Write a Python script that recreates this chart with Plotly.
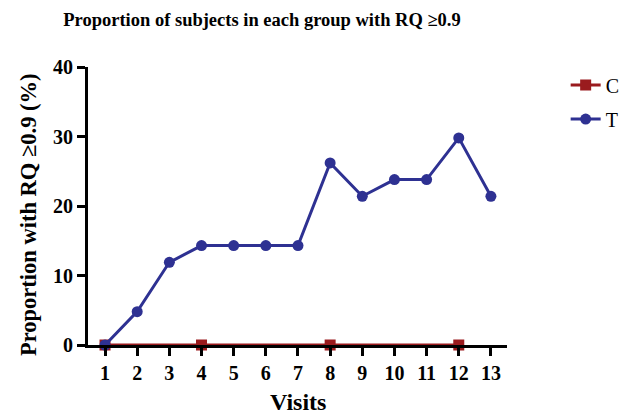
import plotly.graph_objects as go

visits = list(range(1, 14))
t_values = [0, 4.8, 11.9, 14.3, 14.3, 14.3, 14.3, 26.2, 21.4, 23.8, 23.8, 29.8, 21.4]
c_visits = [1, 4, 8, 12]
c_values = [0, 0, 0, 0]
y_ticks = [0, 10, 20, 30, 40]

red = "#9a1b1e"
blue = "#2e3192"
font_family = "Liberation Serif"

# page body has an 8px default margin; figure is sized to fit inside 641x415
W, H = 633, 407
ML, MR, MT, MB = 80, 134, 59, 70
PW, PH = W - ML - MR, H - MT - MB

fig = go.Figure()
fig.add_trace(go.Scatter(
    x=c_visits, y=c_values, name="C", mode="lines+markers", legendgroup="c",
    line=dict(color=red, width=3), marker=dict(symbol="square", size=11, color=red),
    cliponaxis=False))
fig.add_trace(go.Scatter(
    x=visits, y=t_values, name="T", mode="lines+markers", legendgroup="t",
    line=dict(color=blue, width=3), marker=dict(symbol="circle", size=11, color=blue),
    cliponaxis=False))

fig.update_layout(
    width=W, height=H,
    margin=dict(l=ML, r=MR, t=MT, b=MB, autoexpand=False),
    paper_bgcolor="white", plot_bgcolor="white",
    font=dict(family=font_family, color="black", size=19),
    title=dict(text="<b>Proportion of subjects in each group with RQ ≥0.9</b>",
               x=254 / W, xanchor="center", y=1 - 12 / H, yanchor="middle",
               font=dict(size=18.5, family=font_family)),
    legend=dict(x=1.14, y=1.005, xanchor="left", yanchor="top",
                traceorder="grouped", tracegroupgap=5,
                font=dict(size=20, family=font_family), itemwidth=30),
    showlegend=True,
    annotations=[
        dict(text="<b>Proportion with RQ ≥0.9 (%)</b>", xref="paper", yref="paper",
             x=(20 - ML) / PW, y=(337 - 207) / PH, xanchor="center", yanchor="middle",
             textangle=-90, showarrow=False, font=dict(size=22.5, family=font_family)),
        dict(text="<b>Visits</b>", xref="paper", yref="paper",
             x=0.5, y=-(394 - 337) / PH, xanchor="center", yanchor="middle",
             showarrow=False, font=dict(size=24, family=font_family)),
    ],
)
fig.update_xaxes(
    range=[0.47, 13.5], tickvals=visits, ticktext=[f"<b>{v}</b>" for v in visits],
    showgrid=False, zeroline=False, showline=True, linecolor="black", linewidth=3,
    ticks="outside", ticklen=8, tickwidth=3, tickcolor="black", automargin=False,
    tickfont=dict(size=20, family=font_family),
)
fig.update_yaxes(
    range=[0, 40], tickvals=y_ticks, ticktext=[f"<b>{v}</b>" for v in y_ticks],
    showgrid=False, zeroline=False, showline=True, linecolor="black", linewidth=3,
    ticks="outside", ticklen=8, tickwidth=3, tickcolor="black", automargin=False,
    tickfont=dict(size=20, family=font_family),
)

fig.write_html("out.html")
